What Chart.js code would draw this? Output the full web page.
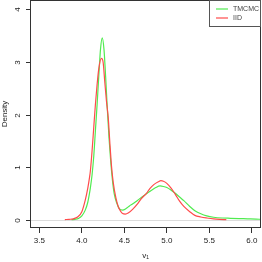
<!DOCTYPE html>
<html>
<head>
<meta charset="utf-8">
<script src="https://cdn.jsdelivr.net/npm/chart.js@4/dist/chart.umd.min.js"></script>
<style>
  html, body { margin: 0; padding: 0; background: #fff; }
  #wrap { width: 262px; height: 262px; }
</style>
</head>
<body>
<div id="wrap"><canvas id="c" width="262" height="262"></canvas></div>
<script>
// density estimates
const iidX = [3.80, 3.85, 3.90, 3.95, 4.00, 4.04, 4.07, 4.09, 4.10, 4.12, 4.14, 4.16, 4.18, 4.20, 4.23,
  4.25, 4.27, 4.29, 4.31, 4.33, 4.35, 4.37, 4.40, 4.43, 4.46, 4.48, 4.51, 4.55, 4.60, 4.65, 4.70, 4.76,
  4.80, 4.85, 4.90, 4.93, 4.96, 5.00, 5.05, 5.10, 5.15, 5.20, 5.27, 5.33, 5.40, 5.47, 5.55, 5.62, 5.70];
const iidY = [0.00, 0.005, 0.015, 0.05, 0.15, 0.37, 0.60, 0.80, 0.92, 1.30, 1.75, 2.20, 2.58, 2.88, 3.07,
  3.00, 2.62, 2.25, 1.95, 1.45, 1.00, 0.70, 0.42, 0.24, 0.15, 0.115, 0.105, 0.13, 0.20, 0.29, 0.40, 0.50,
  0.59, 0.67, 0.72, 0.74, 0.73, 0.69, 0.60, 0.48, 0.35, 0.25, 0.15, 0.08, 0.05, 0.03, 0.012, 0.004, 0.00];

const tmcmcX = [3.88, 3.92, 3.96, 4.00, 4.04, 4.07, 4.09, 4.10, 4.12, 4.14, 4.16, 4.18, 4.20, 4.22, 4.24,
  4.26, 4.28, 4.30, 4.32, 4.34, 4.36, 4.38, 4.41, 4.44, 4.48, 4.52, 4.56, 4.60, 4.65, 4.70, 4.76, 4.82,
  4.87, 4.92, 4.96, 5.00, 5.05, 5.10, 5.15, 5.20, 5.27, 5.33, 5.40, 5.47, 5.55, 5.65, 5.75, 5.85, 5.95,
  6.05, 6.11];
const tmcmcY = [0.00, 0.005, 0.02, 0.07, 0.18, 0.33, 0.50, 0.60, 0.85, 1.20, 1.70, 2.20, 2.75, 3.25, 3.46,
  3.25, 2.72, 2.10, 1.55, 1.10, 0.75, 0.50, 0.32, 0.21, 0.18, 0.21, 0.26, 0.30, 0.36, 0.42, 0.49, 0.56,
  0.61, 0.64, 0.63, 0.61, 0.56, 0.50, 0.43, 0.36, 0.25, 0.17, 0.11, 0.07, 0.045, 0.03, 0.025, 0.02, 0.015,
  0.01, 0.005];

const xTicks = [3.5, 4.0, 4.5, 5.0, 5.5, 6.0];
const yTicks = [0, 1, 2, 3, 4];
const seriesNames = ['TMCMC', 'IID'];

const GREEN = 'rgb(80,235,80)';
const RED = 'rgb(255,75,75)';
const FONT = 'Liberation Sans, Arial, sans-serif';

const pts = (xs, ys) => xs.map((x, i) => ({x, y: ys[i]}));

const frame = {
  id: 'frame',
  beforeDatasetsDraw(chart) {
    const {ctx, chartArea: a, scales: {y}} = chart;
    const y0 = Math.round(y.getPixelForValue(0)) + 0.5;
    ctx.save();
    ctx.strokeStyle = '#dcdcdc';
    ctx.lineWidth = 1;
    ctx.beginPath();
    ctx.moveTo(a.left, y0);
    ctx.lineTo(a.right, y0);
    ctx.stroke();
    ctx.restore();
  },
  afterDraw(chart) {
    const {ctx, chartArea: a, scales: {y}} = chart;
    ctx.save();
    ctx.strokeStyle = '#333';
    ctx.lineWidth = 1;
    ctx.strokeRect(a.left + 0.5, a.top + 0.5, a.right - a.left - 1, a.bottom - a.top - 1);

    // y ticks + labels, rotated like base R
    ctx.fillStyle = '#222';
    ctx.font = '8px ' + FONT;
    ctx.textAlign = 'center';
    ctx.textBaseline = 'middle';
    yTicks.forEach(v => {
      const py = Math.round(y.getPixelForValue(v)) + 0.5;
      ctx.beginPath();
      ctx.moveTo(a.left - 4, py);
      ctx.lineTo(a.left, py);
      ctx.stroke();
      ctx.save();
      ctx.translate(17.5, py);
      ctx.rotate(-Math.PI / 2);
      ctx.fillText(String(v), 0, 0);
      ctx.restore();
    });

    // legend box in the top right corner
    const lx = 209, ly = a.top, lw = a.right - lx, lh = 27;
    ctx.fillStyle = '#fff';
    ctx.fillRect(lx, ly, lw, lh);
    ctx.strokeStyle = '#555';
    ctx.strokeRect(lx + 0.5, ly + 0.5, lw - 1, lh - 1);
    const cols = [GREEN, RED];
    ctx.font = '7px ' + FONT;
    seriesNames.forEach((name, i) => {
      const yy = ly + 9 + i * 9;
      ctx.strokeStyle = cols[i];
      ctx.lineWidth = 1.2;
      ctx.beginPath();
      ctx.moveTo(216, yy);
      ctx.lineTo(228, yy);
      ctx.stroke();
      ctx.fillStyle = '#444';
      ctx.textAlign = 'left';
      ctx.fillText(name, 233, yy);
    });
    ctx.restore();
  }
};

new Chart(document.getElementById('c'), {
  type: 'line',
  data: {
    datasets: [
      {label: seriesNames[0], data: pts(tmcmcX, tmcmcY), borderColor: GREEN, order: 1},
      {label: seriesNames[1], data: pts(iidX, iidY), borderColor: RED, order: 0}
    ]
  },
  options: {
    responsive: false,
    animation: false,
    parsing: false,
    layout: {padding: {top: 0, right: 1, left: 0, bottom: 0}},
    elements: {
      point: {radius: 0},
      line: {borderWidth: 1.2, cubicInterpolationMode: 'monotone', fill: false}
    },
    plugins: {legend: {display: false}, tooltip: {enabled: false}},
    scales: {
      x: {
        type: 'linear',
        min: 3.39,
        max: 6.108,
        afterBuildTicks: s => { s.ticks = xTicks.map(v => ({value: v})); },
        afterFit: s => { s.height = 34; },
        grid: {drawOnChartArea: false, drawTicks: true, tickLength: 5, color: '#333'},
        border: {display: false},
        ticks: {
          color: '#222', padding: 3, maxRotation: 0, autoSkip: false,
          font: {family: FONT, size: 8},
          callback: v => Number(v).toFixed(1)
        },
        title: {display: true, text: 'v₁', color: '#222', font: {family: FONT, size: 8}, padding: {top: 0, bottom: 1}}
      },
      y: {
        type: 'linear',
        min: -0.16,
        max: 4.18,
        afterBuildTicks: s => { s.ticks = yTicks.map(v => ({value: v})); },
        afterFit: s => { s.width = 30; },
        grid: {display: false},
        border: {display: false},
        ticks: {display: false},
        title: {display: true, text: 'Density', color: '#222', font: {family: FONT, size: 8}, padding: 0}
      }
    }
  },
  plugins: [frame]
});
</script>
</body>
</html>
